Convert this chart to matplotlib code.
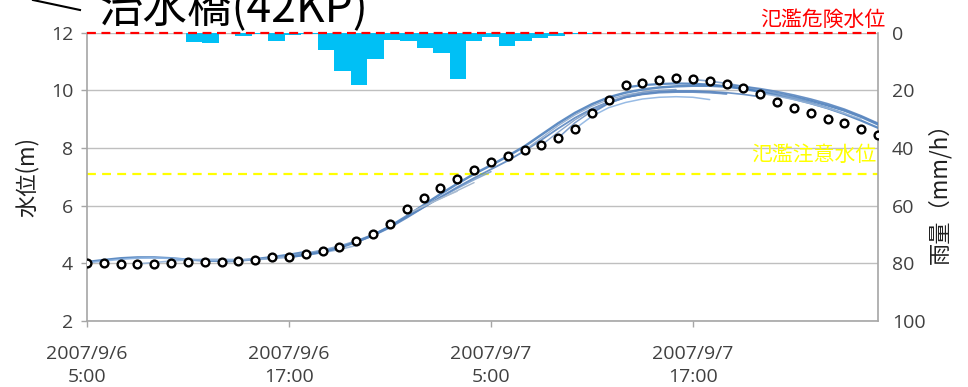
import numpy as np
import matplotlib
matplotlib.use("Agg")
import matplotlib.pyplot as plt
from matplotlib.lines import Line2D

plt.rcParams['font.family'] = ['Open Sans', 'Noto Sans CJK JP', 'DejaVu Sans']
CJK = ['Noto Sans CJK JP', 'DejaVu Sans']

# ---- data -------------------------------------------------------------
# hours since 2007/9/6 5:00
obs_hours = np.arange(48)
obs_level = [4.00, 4.00, 3.97, 3.97, 3.97, 4.00, 4.03, 4.03, 4.03, 4.07,
             4.13, 4.21, 4.21, 4.31, 4.42, 4.58, 4.77, 5.01, 5.35, 5.89,
             6.27, 6.63, 6.94, 7.24, 7.53, 7.73, 7.92, 8.10, 8.35, 8.67,
             9.21, 9.67, 10.18, 10.26, 10.35, 10.43, 10.40, 10.32, 10.22, 10.08,
             9.89, 9.60, 9.38, 9.21, 8.99, 8.88, 8.67, 8.46]

# hourly rainfall (mm/h), 48 hours
rain = [0, 0, 0, 0, 0, 0, 3.1, 3.4, 0.2, 1.0,
        0.4, 2.8, 0.7, 0.3, 6.0, 13.3, 18.3, 9.1, 2.5, 3.0,
        5.2, 7.1, 16.2, 3.0, 1.5, 4.5, 2.9, 2.0, 1.1, 0.5,
        0.3, 0, 0, 0, 0, 0, 0, 0, 0, 0,
        0, 0, 0, 0, 0, 0, 0, 0]

# forecast runs: (start hour, hourly water levels)
fc_start_0a = 0
fc_0a = [4.05, 4.12, 4.18, 4.21, 4.21, 4.18, 4.13, 4.09, 4.08, 4.10, 4.15, 4.22, 4.30, 4.40]
fc_start_0b = 0
fc_0b = [4.02, 4.08, 4.14, 4.18, 4.19, 4.17, 4.14, 4.11, 4.10, 4.11, 4.14]
fc_start_3 = 3
fc_3 = [3.98, 4.03, 4.08, 4.12, 4.14, 4.14, 4.13, 4.13, 4.16, 4.21, 4.28, 4.37, 4.48, 4.62]
fc_start_8 = 8
fc_8 = [4.04, 4.08, 4.13, 4.19, 4.26, 4.35, 4.46, 4.60, 4.78, 5.00, 5.28, 5.60,
        5.94, 6.28, 6.60, 6.90, 7.18]
fc_start_12 = 12
fc_12 = [4.22, 4.30, 4.40, 4.54, 4.74, 4.98, 5.28, 5.64, 6.02, 6.40, 6.76, 7.10,
         7.40, 7.72, 8.06, 8.46, 8.86, 9.22, 9.52, 9.76, 9.92, 10.03, 10.10, 10.14,
         10.16, 10.16, 10.13, 10.08, 10.00, 9.90, 9.78, 9.64, 9.48, 9.30, 9.08, 8.82]
fc_start_16 = 16
fc_16 = [4.74, 4.96, 5.24, 5.58, 5.94, 6.30, 6.64, 6.96, 7.26, 7.56, 7.90, 8.28,
         8.68, 9.05, 9.36, 9.60, 9.76, 9.86, 9.92, 9.94, 9.94, 9.92, 9.88]
fc_start_19a = 19
fc_19a = [5.70, 5.98, 6.24, 6.52, 6.80]
fc_start_19b = 19
fc_19b = [5.70, 5.98, 6.25, 6.50]
fc_start_26 = 26
fc_26 = [7.92, 8.35, 8.78, 9.15, 9.45, 9.68, 9.84, 9.94, 10.00]
fc_start_27 = 27
fc_27 = [8.10, 8.55, 8.98, 9.33, 9.60, 9.80, 9.93, 10.00, 10.03]
fc_start_28 = 28
fc_28 = [8.35, 8.88, 9.28, 9.56, 9.75, 9.87, 9.94, 9.97, 9.97, 9.94, 9.88]
fc_start_29 = 29
fc_29 = [8.67, 9.10, 9.40, 9.58, 9.70, 9.76, 9.78, 9.76, 9.68]
fc_start_30 = 30
fc_30 = [9.21, 9.55, 9.76, 9.88, 9.95, 9.98, 9.98, 9.96, 9.92, 9.86, 9.78]
fc_start_32 = 32
fc_32 = [10.10, 10.18, 10.22, 10.24, 10.23, 10.20, 10.14, 10.05, 9.95, 9.84,
         9.70, 9.55, 9.38, 9.18, 8.95, 8.70]
fc_start_36 = 36
fc_36 = [10.38, 10.32, 10.24, 10.14, 10.02, 9.89, 9.74, 9.58, 9.40, 9.20]
fc_start_38 = 38
fc_38 = [10.20, 10.14, 10.06, 9.96, 9.84, 9.70, 9.54, 9.35, 9.12, 8.86]
fc_start_40 = 40
fc_40 = [9.90, 9.80, 9.68, 9.54, 9.38, 9.20, 9.00]

forecasts = [
    (fc_start_0a, fc_0a, '#4F81BD', 1.6),
    (fc_start_0b, fc_0b, '#8DB4E2', 1.2),
    (fc_start_3, fc_3, '#95B3D7', 1.2),
    (fc_start_8, fc_8, '#7BA0CC', 1.2),
    (fc_start_12, fc_12, '#4F81BD', 1.8),
    (fc_start_16, fc_16, '#5B87C0', 1.3),
    (fc_start_19a, fc_19a, '#9AAFC8', 1.0),
    (fc_start_19b, fc_19b, '#A9BCD2', 1.0),
    (fc_start_26, fc_26, '#8FA9CB', 1.0),
    (fc_start_27, fc_27, '#7D9CC6', 1.0),
    (fc_start_28, fc_28, '#6E92C4', 1.1),
    (fc_start_29, fc_29, '#8DB4E2', 1.1),
    (fc_start_30, fc_30, '#5B87C0', 1.2),
    (fc_start_32, fc_32, '#4F81BD', 1.6),
    (fc_start_36, fc_36, '#7BA0CC', 1.2),
    (fc_start_38, fc_38, '#5B87C0', 1.2),
    (fc_start_40, fc_40, '#95B3D7', 1.1),
]

warn_level = 7.1
danger_level = 12.0
xtick_hours = [0, 12, 24, 36]
xtick_labels = ['2007/9/6\n5:00', '2007/9/6\n17:00', '2007/9/7\n5:00', '2007/9/7\n17:00']

# ---- figure -----------------------------------------------------------
W, H = 968, 387
fig = plt.figure(figsize=(W / 100, H / 100), dpi=100)
fig.patch.set_facecolor('white')
left, right, top, bottom = 87, 878, 32.7, 321
pos = [left / W, 1 - bottom / H, (right - left) / W, (bottom - top) / H]

ax = fig.add_axes(pos)
ax.set_xlim(0, 47)
ax.set_ylim(2, 12)
ax.set_yticks(range(2, 13, 2))
ax.set_xticks(xtick_hours)
ax.set_xticklabels(xtick_labels, linespacing=1.4)
ax.grid(axis='y', color='#BFBFBF', lw=1.0)
ax.set_axisbelow(True)
for s in ['left', 'bottom', 'right']:
    ax.spines[s].set_color('#A6A6A6')
    ax.spines[s].set_linewidth(1.2)
ax.spines['top'].set_visible(False)
ax.tick_params(axis='x', length=4, width=1, color='#A6A6A6', pad=13,
               labelsize=14, labelcolor='#404040')
ax.tick_params(axis='y', length=4, width=1, color='#A6A6A6', pad=6,
               labelsize=14, labelcolor='#404040')

for start, vals, col, lw in forecasts:
    hrs = start + np.arange(len(vals))
    ax.plot(hrs, vals, color=col, lw=lw, alpha=0.9, zorder=3, solid_capstyle='round')

ax.axhline(warn_level, color='#FFFF00', lw=1.6, dashes=(4, 2.8), zorder=2)
ax.plot(obs_hours, obs_level, ls='none', marker='o', ms=5.6, mfc='white',
        mec='black', mew=1.7, zorder=5)

# rainfall on a separate overlay axis (hourly categories, inverted)
ax_r = fig.add_axes(pos, frameon=False)
ax_r.set_xlim(0, len(rain))
ax_r.set_ylim(100, 0)
ax_r.bar(np.arange(len(rain)), rain, width=1.0, align='edge',
         color='#00C0F5', linewidth=0, zorder=2)
ax_r.axhline(0, color='#FF0000', lw=1.6, dashes=(4, 2.5), clip_on=False, zorder=4)
ax_r.set_xticks([])
ax_r.yaxis.tick_right()
ax_r.set_yticks(range(0, 101, 20))
ax_r.tick_params(axis='y', length=0, pad=10, labelsize=14, labelcolor='#404040')

# labels
fig.text(27 / W, 1 - 177 / H, '水位(m)', rotation=90, ha='center', va='center',
         fontsize=16, family=CJK, color='#202020')
fig.text(940 / W, 1 - 188 / H, '雨量（mm/h）', rotation=90, ha='center', va='center',
         fontsize=16, family=CJK, color='#202020')
fig.text(885 / W, 1 - 20 / H, '氾濫危険水位', ha='right', va='center',
         fontsize=15, family=CJK, color='#FF0000')
fig.text(876 / W, 1 - 155 / H, '氾濫注意水位', ha='right', va='center',
         fontsize=15, family=CJK, color='#FFFF00')

# station title
fig.text(98 / W, 1 - 22 / H, '治水橋(42KP)', ha='left', va='baseline',
         fontsize=32, family=CJK, color='black')
fig.add_artist(Line2D([33 / W, 80 / W], [1.0, 1 - 10 / H], color='black',
                      lw=1.5, transform=fig.transFigure))

fig.savefig('out.png', dpi=100)
